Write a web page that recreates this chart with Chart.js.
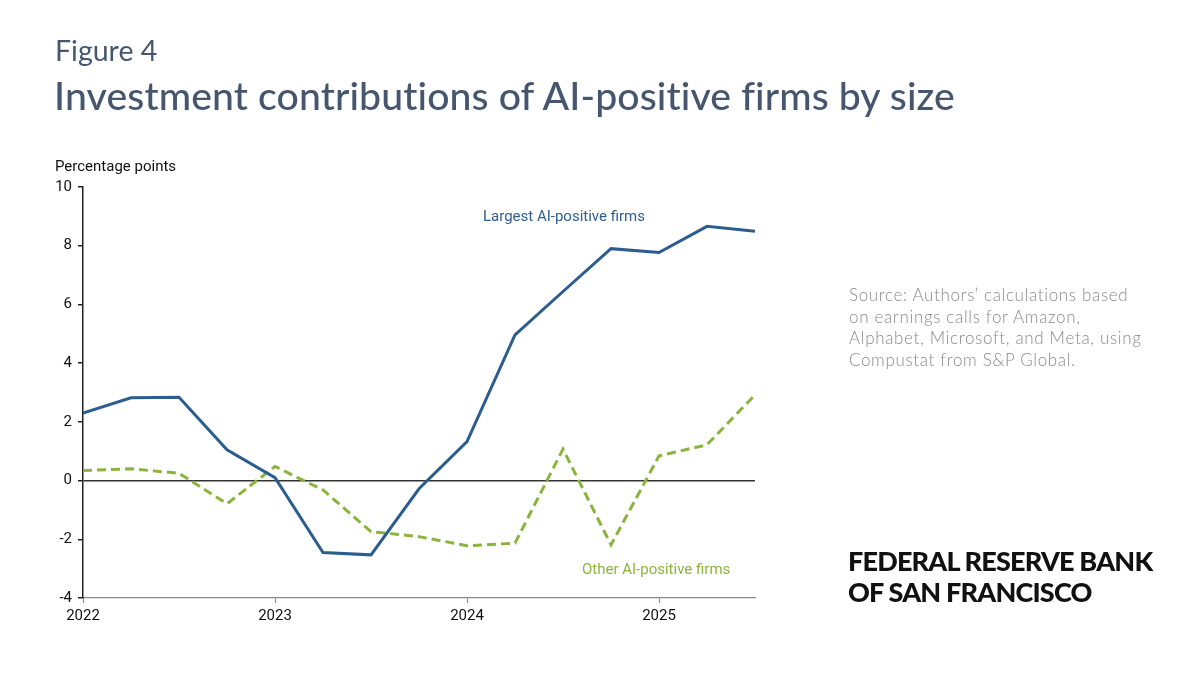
<!DOCTYPE html>
<html>
<head>
<meta charset="utf-8">
<script src="https://cdn.jsdelivr.net/npm/chart.js@4.4.0/dist/chart.umd.min.js"></script>
<style>
  html, body { margin: 0; padding: 0; background: #fff; }
  #wrap { position: relative; width: 1200px; height: 675px; overflow: hidden; }
  #chart { position: absolute; left: 0; top: 0; }
  .txt { position: absolute; white-space: nowrap; font-variant-ligatures: none; font-feature-settings: "liga" 0, "clig" 0, "dlig" 0, "calt" 0; }
  #fig { left: 55px; top: 33px; font: 400 28.5px Lato, sans-serif; color: #46566f; }
  #title { left: 54px; top: 71px; font: 500 39.2px Lato, sans-serif; color: #46566f; letter-spacing: 0.1px; }
  #unit { left: 55px; top: 157px; font: 400 15px Roboto, sans-serif; color: #111; }
  #source { left: 849px; top: 284px; font: 300 17px Lato, sans-serif; color: #8a8a8a; line-height: 21.5px; letter-spacing: 0.65px; }
  #logo { left: 848px; top: 545px; font: 900 27px Lato, sans-serif; color: #111; line-height: 31px; letter-spacing: -0.8px; }
  #lblBig { left: 483px; top: 207px; font: 400 15px Roboto, sans-serif; color: #2e5e8e; }
  #lblOther { left: 582px; top: 560px; font: 400 15px Roboto, sans-serif; color: #8db43e; }
</style>
</head>
<body>
<div id="wrap">
  <canvas id="chart" width="1200" height="675"></canvas>
  <div class="txt" id="fig">Figure 4</div>
  <div class="txt" id="title">Investment contributions of AI-positive firms by size</div>
  <div class="txt" id="unit">Percentage points</div>
  <div class="txt" id="lblBig">Largest AI-positive firms</div>
  <div class="txt" id="lblOther">Other AI-positive firms</div>
  <div class="txt" id="source">Source: Authors’ calculations based<br>on earnings calls for Amazon,<br>Alphabet, Microsoft, and Meta, using<br>Compustat from S&amp;P Global.</div>
  <div class="txt" id="logo">FEDERAL RESERVE BANK<br>OF SAN FRANCISCO</div>
</div>
<script>
// quarterly observations, 2022 Q1 .. 2025 Q3
const quarters = [2022, 2022.25, 2022.5, 2022.75, 2023, 2023.25, 2023.5, 2023.75,
                  2024, 2024.25, 2024.5, 2024.75, 2025, 2025.25, 2025.5];
const largestFirms = [2.30, 2.82, 2.84, 1.05, 0.10, -2.45, -2.53, -0.28,
                      1.33, 4.96, 6.44, 7.90, 7.77, 8.66, 8.49];
const otherFirms = [0.34, 0.40, 0.25, -0.79, 0.48, -0.32, -1.74, -1.91,
                    -2.22, -2.13, 1.07, -2.19, 0.84, 1.22, 2.92];
const yearTicks = [2022, 2023, 2024, 2025];
const yTicks = [-4, -2, 0, 2, 4, 6, 8, 10];

const toPoints = vals => vals.map((v, i) => ({ x: quarters[i], y: v }));

const ctx = document.getElementById('chart').getContext('2d');
new Chart(ctx, {
  type: 'line',
  data: {
    datasets: [
      {
        label: 'Largest AI-positive firms',
        data: toPoints(largestFirms),
        borderColor: '#2c5d8f',
        borderWidth: 3,
        pointRadius: 0,
        tension: 0,
        fill: false
      },
      {
        label: 'Other AI-positive firms',
        data: toPoints(otherFirms),
        borderColor: '#8ab43c',
        borderWidth: 3,
        borderDash: [9, 5],
        pointRadius: 0,
        tension: 0,
        fill: false
      }
    ]
  },
  options: {
    responsive: false,
    animation: false,
    layout: { padding: { left: 0, right: 445, top: 187, bottom: 37 } },
    plugins: { legend: { display: false }, tooltip: { enabled: false } },
    scales: {
      x: {
        type: 'linear',
        min: 2022,
        max: 2025.5,
        afterFit: s => { s.height = 40; },
        afterBuildTicks: s => { s.ticks = yearTicks.map(v => ({ value: v })); },
        ticks: {
          callback: v => String(v),
          font: { family: 'Roboto', size: 15 },
          color: '#111',
          padding: 4,
          maxRotation: 0
        },
        grid: { drawOnChartArea: false, drawTicks: true, tickLength: 5, tickColor: '#888' },
        border: { color: '#888', width: 1.2 }
      },
      y: {
        min: -4,
        max: 10,
        afterFit: s => { s.width = 83; },
        afterBuildTicks: s => { s.ticks = yTicks.map(v => ({ value: v })); },
        ticks: {
          font: { family: 'Roboto', size: 15 },
          color: '#111',
          padding: 6
        },
        grid: {
          drawOnChartArea: true,
          drawTicks: true,
          tickLength: 5,
          color: c => (c.tick && c.tick.value === 0 ? '#333' : 'rgba(0,0,0,0)'),
          tickColor: '#222',
          lineWidth: 1.5
        },
        border: { color: '#222', width: 1.5 }
      }
    }
  }
});
</script>
</body>
</html>
